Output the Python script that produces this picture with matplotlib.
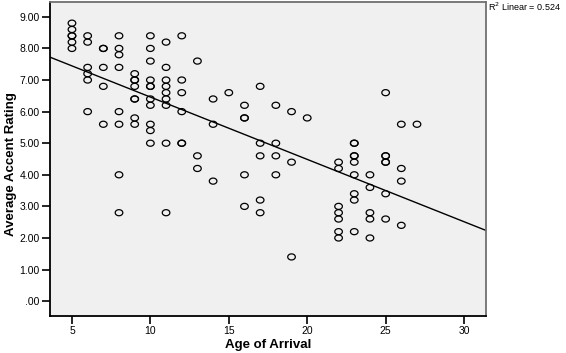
import numpy as np
import matplotlib
matplotlib.use("Agg")
import matplotlib.pyplot as plt
from matplotlib.path import Path

# Data (age of arrival -> list of average accent ratings)
ages = [5, 6, 7, 8, 9, 10, 11, 12, 13, 14, 15, 16, 17, 18, 19, 20, 22, 23, 24, 25, 26, 27]
ratings = [
    [8.8, 8.6, 8.4, 8.4, 8.2, 8.0],
    [8.4, 8.2, 7.4, 7.2, 7.0, 6.0],
    [8.0, 8.0, 7.4, 6.8, 5.6],
    [8.4, 8.0, 7.8, 7.4, 6.0, 5.6, 4.0, 2.8],
    [7.2, 7.0, 7.0, 6.8, 6.4, 6.4, 5.8, 5.6],
    [8.4, 8.0, 7.6, 7.0, 6.8, 6.8, 6.4, 6.2, 5.6, 5.4, 5.0],
    [8.2, 7.4, 7.0, 6.8, 6.6, 6.4, 6.2, 5.0, 2.8],
    [8.4, 7.0, 6.6, 6.0, 5.0, 5.0],
    [7.6, 4.6, 4.2],
    [6.4, 5.6, 3.8],
    [6.6],
    [6.2, 5.8, 5.8, 4.0, 3.0],
    [6.8, 5.0, 4.6, 3.2, 2.8],
    [6.2, 5.0, 4.6, 4.0],
    [6.0, 4.4, 1.4],
    [5.8],
    [4.4, 4.2, 3.0, 2.8, 2.6, 2.2, 2.0],
    [5.0, 5.0, 4.6, 4.6, 4.4, 4.0, 3.4, 3.2, 2.2],
    [4.0, 3.6, 2.8, 2.6, 2.0],
    [6.6, 4.6, 4.6, 4.4, 4.4, 3.4, 2.6],
    [5.6, 4.2, 3.8, 2.4],
    [5.6],
]
x_ticks = [5, 10, 15, 20, 25, 30]
y_ticks = [0, 1, 2, 3, 4, 5, 6, 7, 8, 9]
y_tick_labels = [".00", "1.00", "2.00", "3.00", "4.00", "5.00", "6.00", "7.00", "8.00", "9.00"]
r2_label = "R$^2$ Linear = 0.524"

x = np.concatenate([[a] * len(r) for a, r in zip(ages, ratings)]).astype(float)
y = np.concatenate([np.array(r, dtype=float) for r in ratings])

plt.rcParams['font.family'] = ['Liberation Sans', 'DejaVu Sans']

fig = plt.figure(figsize=(5.66, 3.53), dpi=100)
ax = fig.add_axes([50 / 566, 37 / 353, 436 / 566, 314 / 353])
ax.set_facecolor('#f0f0f0')

# elliptical open marker
t = np.linspace(0, 2 * np.pi, 40)
ell = Path(np.column_stack([1.25 * np.cos(t), np.sin(t)]), closed=True)

ax.scatter(x, y, marker=ell, s=30, facecolors='none', edgecolors='black',
           linewidths=0.9, zorder=3)

xmin, xmax = 3.6, 31.4
ax.set_xlim(xmin, xmax)
ax.set_ylim(-0.47, 9.47)

slope, intercept = np.polyfit(x, y, 1)
xl = np.array([xmin, xmax])
ax.plot(xl, intercept + slope * xl, color='black', lw=1.0, zorder=2)

ax.set_xticks(x_ticks)
ax.set_yticks(y_ticks)
ax.set_yticklabels(y_tick_labels)
ax.tick_params(axis='both', direction='out', length=6, width=1.2, labelsize=7.5,
               colors='black', pad=1.5)
for s in ['left', 'bottom']:
    ax.spines[s].set_linewidth(1.3)
    ax.spines[s].set_color('black')
for s in ['top', 'right']:
    ax.spines[s].set_linewidth(1.3)
    ax.spines[s].set_color('#707070')

ax.set_xlabel("Age of Arrival", fontsize=9.5, fontweight='bold', labelpad=2)
ax.set_ylabel("Average Accent Rating", fontsize=9.5, fontweight='bold', labelpad=2, y=0.485)

fig.text(488 / 566, 1 - 7 / 353, r2_label, fontsize=6.5, va='center', ha='left')

fig.savefig("out.png", dpi=100)
